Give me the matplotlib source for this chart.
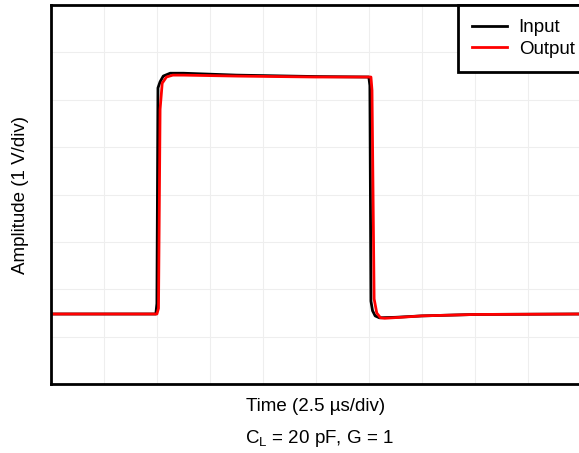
import matplotlib.pyplot as plt

plt.rcParams["font.family"] = ["Liberation Sans", "DejaVu Sans"]

# time in divisions, amplitude in divisions
t_in = [0.0, 1.98, 2.0, 2.02, 2.06, 2.12, 2.25, 2.5, 3.5, 5.0, 6.0, 6.02, 6.04, 6.07, 6.12, 6.2, 6.5, 7.0, 8.0, 10.0]
v_in = [1.48, 1.48, 1.7, 6.25, 6.38, 6.5, 6.56, 6.56, 6.52, 6.49, 6.48, 6.3, 1.75, 1.55, 1.44, 1.4, 1.41, 1.44, 1.47, 1.48]

t_out = [0.0, 2.0, 2.03, 2.06, 2.1, 2.18, 2.3, 2.5, 3.5, 5.0, 6.04, 6.06, 6.1, 6.15, 6.22, 6.3, 6.6, 7.0, 8.0, 10.0]
v_out = [1.48, 1.48, 1.6, 5.8, 6.35, 6.48, 6.52, 6.52, 6.5, 6.48, 6.48, 6.2, 1.8, 1.5, 1.4, 1.39, 1.41, 1.44, 1.47, 1.48]


def main():
    fig = plt.figure(figsize=(5.79, 4.53), dpi=100)
    ax = fig.add_axes([0.088, 0.152, 0.915, 0.837])

    ax.plot(t_in, v_in, color="black", lw=2, label="Input")
    ax.plot(t_out, v_out, color="#ff0000", lw=2, label="Output")

    ax.set_xlim(0, 10)
    ax.set_ylim(0, 8)
    ax.set_xticks(range(11))
    ax.set_yticks(range(9))
    ax.tick_params(length=0, labelbottom=False, labelleft=False)
    ax.grid(color="#eeeeee", lw=0.8)
    for s in ax.spines.values():
        s.set_linewidth(2)

    ax.set_xlabel("Time (2.5 µs/div)", fontsize=13.5, labelpad=10)
    ax.set_ylabel("Amplitude (1 V/div)", fontsize=13.5, labelpad=16)
    fig.text(0.552, 0.022, "C$_\\mathregular{L}$ = 20 pF, G = 1", ha="center", fontsize=13.5)

    leg = ax.legend(loc="upper right", bbox_to_anchor=(1.015, 1), borderaxespad=0,
                    fancybox=False, edgecolor="black", framealpha=1, fontsize=13.5,
                    handlelength=1.9, handletextpad=0.6, borderpad=0.75,
                    labelspacing=0.25)
    leg.get_frame().set_linewidth(2)

    fig.savefig("out.png", dpi=100)


if __name__ == "__main__":
    main()
